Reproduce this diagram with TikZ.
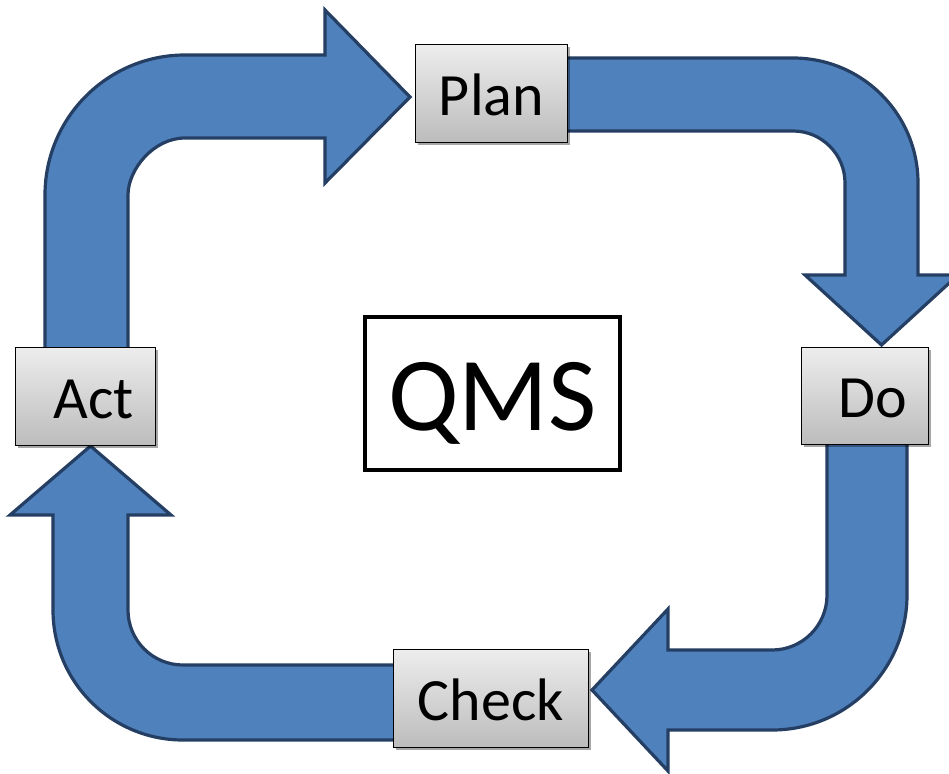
\documentclass[tikz,border=0pt]{standalone}
\usepackage{fontspec}
\setmainfont{Carlito}
\usetikzlibrary{shadows}
\definecolor{arrowfill}{HTML}{4F81BD}
\definecolor{arrowline}{HTML}{243F63}
\definecolor{boxtop}{HTML}{EDEDED}
\definecolor{boxbot}{HTML}{BCBCBC}
\begin{document}
\begin{tikzpicture}[x=1pt,y=-1pt,
  blockarrow/.style={fill=arrowfill, draw=arrowline, line width=3.2pt, line join=miter},
  stagebox/.style={draw=black, line width=0.8pt, top color=boxtop, bottom color=boxbot,
    inner sep=0pt, font=\fontsize{60}{60}\selectfont, text height=43pt, text depth=0pt,
    drop shadow={shadow xshift=2pt, shadow yshift=-2.5pt, fill=black, opacity=0.35}},
  centerbox/.style={draw=black, line width=4pt, fill=white, inner sep=0pt,
    font=\fontsize{105}{105}\selectfont, text height=73pt, text depth=0pt,
    drop shadow={shadow xshift=2pt, shadow yshift=-2pt, fill=black, opacity=0.25}}]
\useasboundingbox[fill=white] (0,0) rectangle (949,773);

% block arrows
% Act -> Plan
\draw[blockarrow] (45,352) -- (45,195) .. controls (45,117.7) and (107.7,55) .. (185,55)
  -- (325,55) -- (325,10) -- (410,97) -- (325,183) -- (325,138) -- (185,138)
  .. controls (153.5,138) and (128,169.5) .. (128,195) -- (128,352) -- cycle;
% Plan -> Do
\draw[blockarrow] (562,58) -- (793,58) .. controls (862,58) and (918,114) .. (918,183)
  -- (918,275) -- (958,275) -- (881.5,345) -- (805,275) -- (845,275) -- (845,183)
  .. controls (845,154.3) and (821.7,131) .. (793,131) -- (562,131) -- cycle;
% Do -> Check
\draw[blockarrow] (907,440) -- (907,595) .. controls (907,669.6) and (846.6,730) .. (772,730)
  -- (668,730) -- (668,771) -- (592,690) -- (668,609) -- (668,650) -- (772,650)
  .. controls (802.4,650) and (827,625.4) .. (827,595) -- (827,440) -- cycle;
% Check -> Act
\draw[blockarrow] (398,740) -- (183,740) .. controls (111.2,740) and (53,681.8) .. (53,610)
  -- (53,515) -- (10,515) -- (90.5,446) -- (171,515) -- (128,515) -- (128,610)
  .. controls (128,640.4) and (152.6,665) .. (183,665) -- (398,665) -- cycle;

% stage boxes
\node[stagebox, minimum width=152pt, minimum height=98pt] (plan) at (491.5,93.5) {Plan};
\node[stagebox, minimum width=127pt, minimum height=97pt] (do) at (865,396) {\hspace*{16pt}Do};
\node[stagebox, minimum width=140pt, minimum height=98pt] (act) at (85.5,396.5) {\hspace*{16pt}Act};
\node[stagebox, minimum width=195pt, minimum height=98pt] (check) at (491,698.5) {Check};

% centre
\node[centerbox, minimum width=255pt, minimum height=153pt] (qms) at (492.5,393.5) {QMS};
\end{tikzpicture}
\end{document}
